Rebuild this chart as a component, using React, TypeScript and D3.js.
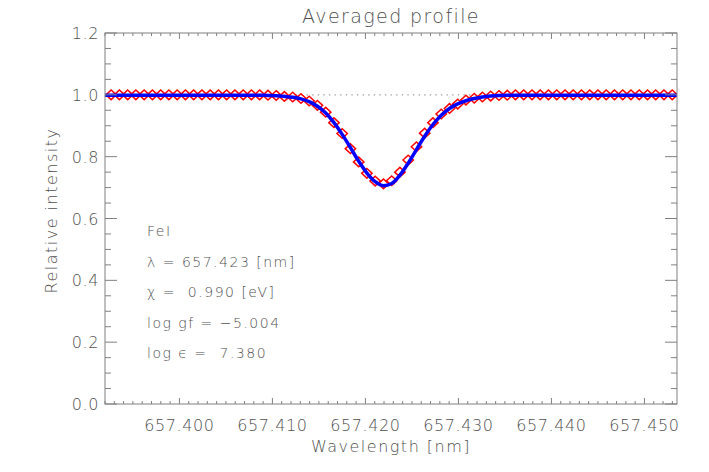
import React, { useEffect } from 'react'
import * as d3 from 'd3'

// observed profile sample wavelengths [nm]
const obsWl = [
  657.39266, 657.39355, 657.39444, 657.39532, 657.39621, 657.3971, 657.39799, 657.39887, 657.39976, 657.40065,
  657.40153, 657.40242, 657.40331, 657.4042, 657.40508, 657.40597, 657.40686, 657.40774, 657.40863, 657.40952,
  657.41041, 657.41129, 657.41218, 657.41307, 657.41395, 657.41484, 657.41573, 657.41662, 657.4175, 657.41839,
  657.41928, 657.42016, 657.42105, 657.42194, 657.42283, 657.42371, 657.4246, 657.42549, 657.42637, 657.42726,
  657.42815, 657.42904, 657.42992, 657.43081, 657.4317, 657.43258, 657.43347, 657.43436, 657.43525, 657.43613,
  657.43702, 657.43791, 657.43879, 657.43968, 657.44057, 657.44146, 657.44234, 657.44323, 657.44412, 657.445,
  657.44589, 657.44678, 657.44767, 657.44855, 657.44944, 657.45033, 657.45121, 657.4521, 657.45299,
]

// observed relative intensity (red diamonds)
const obsI = [
  1.0, 1.0, 1.0, 1.0, 1.0, 1.0, 1.0, 1.0, 1.0, 1.0,
  1.0, 1.0, 1.0, 1.0, 1.0, 1.0, 1.0, 1.0, 1.0, 0.999,
  0.998, 0.995, 0.993, 0.988, 0.98, 0.966, 0.944, 0.91, 0.875, 0.826,
  0.783, 0.746, 0.721, 0.712, 0.722, 0.75, 0.789, 0.832, 0.876, 0.91,
  0.938, 0.956, 0.97, 0.983, 0.989, 0.993, 0.996, 0.998, 0.999, 1.0,
  1.0, 1.0, 1.0, 1.0, 1.0, 1.0, 1.0, 1.0, 1.0, 1.0,
  1.0, 1.0, 1.0, 1.0, 1.0, 1.0, 1.0, 1.0, 1.0,
]

// fitted model (blue line), same grid plus the plot edges
const modelWl = [657.392, ...obsWl, 657.4535]
const modelI = [
  0.999,
  0.999, 0.999, 0.999, 0.999, 0.999, 0.999, 0.999, 0.999, 0.999, 0.999,
  0.999, 0.999, 0.999, 0.999, 0.999, 0.999, 0.999, 0.999, 0.999, 0.998,
  0.997, 0.995, 0.992, 0.987, 0.978, 0.963, 0.941, 0.91, 0.872, 0.829,
  0.785, 0.747, 0.719, 0.706, 0.713, 0.74, 0.779, 0.823, 0.866, 0.904,
  0.934, 0.956, 0.971, 0.981, 0.988, 0.993, 0.996, 0.998, 0.999, 0.999,
  0.999, 0.999, 0.999, 0.999, 0.999, 0.999, 0.999, 0.999, 0.999, 0.999,
  0.999, 0.999, 0.999, 0.999, 0.999, 0.999, 0.999, 0.999, 0.999,
  0.999,
]

const xTicks = [657.4, 657.41, 657.42, 657.43, 657.44, 657.45]
const yTicks = [0, 0.2, 0.4, 0.6, 0.8, 1.0, 1.2]

const infoLines = ['FeI', 'λ = 657.423 [nm]', 'χ =  0.990 [eV]', 'log gf = −5.004', 'log ϵ =  7.380']

const W = 709
const H = 472
const m = { left: 105, right: 677, top: 33, bottom: 404 }
const ink = '#505050'
const font = '"DejaVu Sans", sans-serif'

export default function App() {
  useEffect(() => {
    document.body.style.margin = '0'
  }, [])

  const x = d3.scaleLinear().domain([657.392, 657.4535]).range([m.left, m.right])
  const y = d3.scaleLinear().domain([0, 1.2]).range([m.bottom, m.top])

  const xMinor = x.ticks(60)
  const yMinor = y.ticks(24)

  const line = d3
    .line<number>()
    .x((_, i) => x(modelWl[i]))
    .y(d => y(d))
    .curve(d3.curveMonotoneX)

  const dx = 5.2
  const dy = 4.8
  const diamond = (cx: number, cy: number) =>
    `M${cx},${cy - dy}L${cx + dx},${cy}L${cx},${cy + dy}L${cx - dx},${cy}Z`

  return (
    <svg width={W} height={H} style={{ display: 'block', background: '#fff' }} fontFamily={font} fontWeight={200}>
      <defs>
        <clipPath id="plot">
          <rect x={m.left} y={m.top} width={m.right - m.left} height={m.bottom - m.top} />
        </clipPath>
      </defs>

      {/* title */}
      <text x={(m.left + m.right) / 2} y={23} textAnchor="middle" fontSize={19} fill={ink} letterSpacing={1.4}>
        Averaged profile
      </text>

      {/* continuum reference */}
      <line
        x1={m.left}
        x2={m.right}
        y1={y(1)}
        y2={y(1)}
        stroke="#999"
        strokeWidth={1.3}
        strokeDasharray="1.3 4.3"
      />

      <g clipPath="url(#plot)">
        {obsWl.map((w, i) => (
          <path key={i} d={diamond(x(w), y(obsI[i]))} fill="none" stroke="#ff0000" strokeWidth={1.5} />
        ))}
        <path d={line(modelI) || ''} fill="none" stroke="#0000ff" strokeWidth={3.5} />
      </g>

      {/* frame */}
      <rect
        x={m.left}
        y={m.top}
        width={m.right - m.left}
        height={m.bottom - m.top}
        fill="none"
        stroke="#808080"
        strokeWidth={1}
      />

      {/* x ticks, bottom and top */}
      {xMinor.map((t, i) => {
        const major = xTicks.some(v => Math.abs(v - t) < 1e-6)
        const len = major ? 6 : 3
        return (
          <g key={'xt' + i} stroke="#808080">
            <line x1={x(t)} x2={x(t)} y1={m.bottom} y2={m.bottom - len} />
            <line x1={x(t)} x2={x(t)} y1={m.top} y2={m.top + len} />
          </g>
        )
      })}
      {yMinor.map((t, i) => {
        const major = yTicks.some(v => Math.abs(v - t) < 1e-6)
        const len = major ? 12 : 6
        return (
          <g key={'yt' + i} stroke="#808080">
            <line x1={m.left} x2={m.left + len} y1={y(t)} y2={y(t)} />
            <line x1={m.right} x2={m.right - len} y1={y(t)} y2={y(t)} />
          </g>
        )
      })}

      {xTicks.map(t => (
        <text key={'xl' + t} x={x(t)} y={431} textAnchor="middle" fontSize={16} fill={ink} letterSpacing={0.6}>
          {t.toFixed(3)}
        </text>
      ))}
      {yTicks.map(t => (
        <text key={'yl' + t} x={99} y={y(t) + 6} textAnchor="end" fontSize={16} fill={ink} letterSpacing={0.6}>
          {t.toFixed(1)}
        </text>
      ))}

      <text x={(m.left + m.right) / 2} y={452} textAnchor="middle" fontSize={16} fill={ink} letterSpacing={1.5}>
        Wavelength [nm]
      </text>
      <text
        transform={`translate(57,${(m.top + m.bottom) / 2 - 8}) rotate(-90)`}
        textAnchor="middle"
        fontSize={16}
        fill={ink}
        letterSpacing={1.5}
      >
        Relative intensity
      </text>

      {infoLines.map((s, i) => (
        <text
          key={'info' + i}
          x={147}
          y={236 + i * 30.5}
          fontSize={14}
          fill={ink}
          letterSpacing={1.5}
          style={{ whiteSpace: 'pre' }}
        >
          {s}
        </text>
      ))}
    </svg>
  )
}
